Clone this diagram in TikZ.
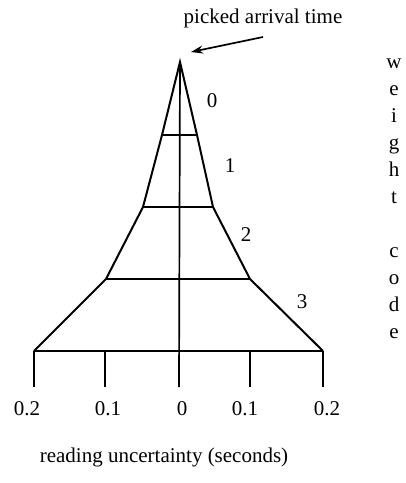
\documentclass[tikz,border=0pt]{standalone}
\usepackage{fontspec}
\setmainfont{Liberation Serif}
\usetikzlibrary{arrows.meta}
\begin{document}
\begin{tikzpicture}[x=1pt,y=-1pt,
  edge/.style={line width=2pt,line join=miter},
  axis/.style={line width=1.7pt},
  lbl/.style={font=\fontsize{21}{24}\selectfont,inner sep=0pt},
  letter/.style={font=\fontsize{21}{24}\selectfont,inner sep=0pt,anchor=base},
  pointer/.style={line width=1.7pt,-{Stealth[length=12pt,width=8pt]}}]
\useasboundingbox (0,0) rectangle (406,483);
% outline coordinates
\coordinate (apex) at (180,62);
\coordinate (r1) at (197,135); \coordinate (l1) at (162,135);
\coordinate (r2) at (213,207); \coordinate (l2) at (143,207);
\coordinate (r3) at (250,279); \coordinate (l3) at (106,279);
\coordinate (r4) at (323,351); \coordinate (l4) at (34,351);
\coordinate (m4) at (179,351);
\coordinate (a4) at (105,351); \coordinate (b4) at (250,351);
\coordinate (tA) at (34,387); \coordinate (tB) at (105,387);
\coordinate (tC) at (179,387); \coordinate (tD) at (250,387);
\coordinate (tE) at (323,387);
% pyramid
\draw[edge] (l4) -- (l3) -- (l2) -- (l1) -- (apex) -- (r1) -- (r2) -- (r3) -- (r4);
\draw[edge] (l1) -- (r1);
\draw[edge] (l2) -- (r2);
\draw[edge] (l3) -- (r3);
\draw[edge] (l4) -- (r4);
\draw[axis] (apex) -- (tC);
% ticks
\draw[axis] (l4) -- (tA);
\draw[axis] (a4) -- (tB);
\draw[axis] (b4) -- (tD);
\draw[axis] (r4) -- (tE);
% level labels
\node[lbl] (c0) at (212,101) {0};
\node[lbl] (c1) at (230,166) {1};
\node[lbl] (c2) at (246,235) {2};
\node[lbl] (c3) at (302,302) {3};
% tick labels
\node[lbl] (x1) at (27,409) {0.2};
\node[lbl] (x2) at (108,409) {0.1};
\node[lbl] (x3) at (182,409) {0};
\node[lbl] (x4) at (245,409) {0.1};
\node[lbl] (x5) at (327,409) {0.2};
% titles
\node[lbl] (title) at (263,18) {picked arrival time};
\node[lbl] (xlab) at (164,457) {reading uncertainty (seconds)};
\coordinate (from) at (263,37);
\coordinate (tip) at (191,52);
\draw[pointer] (from) -- (tip);
% vertical weight code
\node[letter] (w1) at (394,68) {w};
\node[letter] (w2) at (394,95) {e};
\node[letter] (w3) at (394,122) {i};
\node[letter] (w4) at (394,149) {g};
\node[letter] (w5) at (394,176) {h};
\node[letter] (w6) at (394,203) {t};
\node[letter] (w7) at (394,257) {c};
\node[letter] (w8) at (394,284) {o};
\node[letter] (w9) at (394,311) {d};
\node[letter] (w10) at (394,338) {e};
\end{tikzpicture}
\end{document}
